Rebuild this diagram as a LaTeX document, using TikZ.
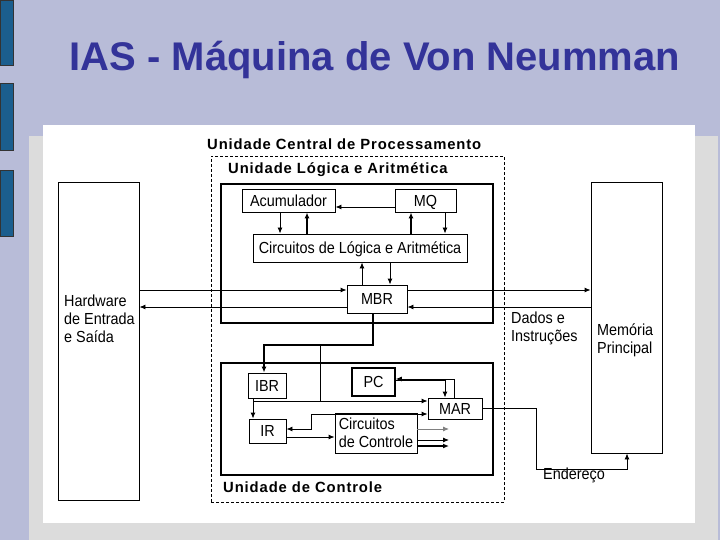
\documentclass[tikz,border=0pt]{standalone}
\usepackage{fontspec}
\setmainfont{Liberation Sans}
\newfontfamily\diagfont[FakeStretch=0.9]{Liberation Sans}
\newfontfamily\unitfont[LetterSpace=6]{Liberation Sans}
\usetikzlibrary{arrows.meta,positioning,calc}
\definecolor{slidebg}{RGB}{184,188,216}
\definecolor{panelgray}{RGB}{220,220,220}
\definecolor{barblue}{RGB}{27,94,142}
\definecolor{titleblue}{RGB}{51,51,153}

\begin{document}
\begin{tikzpicture}[x=1pt, y=-1pt, >={Latex[length=6pt,width=5pt]},
  box/.style={draw, line width=0.9pt, inner sep=0pt,
    font=\diagfont\fontsize{16}{18}\selectfont},
  reg/.style={box, text height=11.7pt, text depth=0pt},
  unit/.style={draw, line width=2pt, inner sep=0pt},
  txt/.style={anchor=west, align=left, inner sep=0pt,
    font=\diagfont\fontsize{16}{18}\selectfont},
  unitlbl/.style={anchor=base west, inner sep=0pt,
    font=\unitfont\bfseries\fontsize{14.8}{17}\selectfont},
  wire/.style={line width=0.9pt},
  bus/.style={line width=1.7pt}]
  \useasboundingbox (0,0) rectangle (720,540);
  \fill[slidebg] (0,0) rectangle (720,540);
  \fill[panelgray] (29,136) rectangle (718,540);
  \fill[white] (43,125) rectangle (695,523);
  \foreach \ya/\yb in {0/65, 83/150, 170/236}
    \filldraw[fill=barblue, draw=black!80, line width=0.8pt] (0,\ya) rectangle (13,\yb);
  \node[anchor=base, text=titleblue, font=\bfseries\fontsize{40}{48}\selectfont]
    (title) at (375,71) {IAS - Máquina de Von Neumman};

  \node[box, minimum width=81, minimum height=318] (hw) at (98.5,341) {};
  \node[txt] (hwtext) at (64,319) {Hardware\\de Entrada\\e Saída};
  \node[box, minimum width=71, minimum height=271] (mem) at (626.5,317.5) {};
  \node[txt] (memtext) at (597,340) {Memória\\Principal};

  \node[draw, dashed, line width=0.8pt, dash pattern=on 3pt off 2pt,
    minimum width=293, minimum height=346] (cpu) at (357.5,329) {};
  \node[unit, minimum width=272, minimum height=139] (alu) at (357,253.5) {};
  \node[unit, minimum width=272, minimum height=112] (cu) at (357,419) {};
  \node[unitlbl] (cpulbl) at (207,150) {Unidade Central de Processamento};
  \node[unitlbl] (alulbl) at (228,174) {Unidade Lógica e Aritmética};
  \node[unitlbl] (culbl) at (223,492) {Unidade de Controle};

  \node[reg, minimum width=93, minimum height=23] (acc) at (288.5,200.5) {Acumulador};
  \node[reg, minimum width=61, minimum height=23] (mq) at (425.5,200.5) {MQ};
  \node[reg, minimum width=214, minimum height=28] (cla) at (360,248) {Circuitos de Lógica e Aritmética};
  \node[reg, minimum width=60, minimum height=28] (mbr) at (377,299) {MBR};
  \node[reg, minimum width=38, minimum height=25] (ibr) at (267,385.5) {IBR};
  \node[reg, line width=1.6pt, minimum width=43, minimum height=28] (pc) at (373.5,382) {PC};
  \node[reg, minimum width=54, minimum height=21] (mar) at (455,408.5) {MAR};
  \node[reg, minimum width=37, minimum height=24] (ir) at (267.5,431) {IR};
  \node[box, minimum width=82, minimum height=40, align=left] (ctl) at (376,433) {Circuitos\\de Controle};

  \draw[wire,->] (mq.west |- 0,207) -- (acc.east |- 0,207);
  \draw[wire,->] (acc.south -| 280,0) -- (cla.north -| 280,0);
  \draw[bus,->] (cla.north -| 307,0) -- (acc.south -| 307,0);
  \draw[bus,->] (cla.north -| 411,0) -- (mq.south -| 411,0);
  \draw[wire,->] (mq.south -| 445,0) -- (cla.north -| 445,0);
  \draw[wire,->] (mbr.north -| 362,0) -- (cla.south -| 362,0);
  \draw[wire,->] (cla.south -| 390,0) -- (mbr.north -| 390,0);

  \draw[wire,->] (hw.east |- 0,290) -- (mbr.west |- 0,290);
  \draw[wire,->] (mbr.west |- 0,307) -- (hw.east |- 0,307);
  \draw[wire,->] (mbr.east |- 0,290) -- (mem.west |- 0,290);
  \draw[wire,->] (mem.west |- 0,307) -- (mbr.east |- 0,307);
  \node[txt] (data) at (511,328) {Dados e\\Instruções};

  \coordinate (busjoint) at (320,345);
  \coordinate (tap) at (253,401);
  \draw[bus,->] (mbr.south -| 373,0) |- (264,345) -- (ibr.north -| 264,0);
  \draw[wire] (busjoint) -- (busjoint |- tap);
  \draw[wire,->] (ibr.south -| tap) -- (ir.north -| tap);
  \draw[wire,->] (tap) -- (mar.west |- tap);
  \draw[wire,<->] (ir.east |- 0,429) -| (311,414) -- (mar.west |- 0,414);
  \draw[wire,->] (ir.east |- 0,437) -- (ctl.west |- 0,437);
  \draw[wire,->] (mar.north -| 454,0) |- (pc.east |- 0,379);
  \draw[wire,->] (pc.east |- 0,380) -| (mar.north -| 445,0);

  \coordinate (out1) at (449,429);
  \coordinate (out2) at (449,440);
  \coordinate (out3) at (449,446);
  \draw[wire,->,gray] (ctl.east |- out1) -- (out1);
  \draw[wire,->] (ctl.east |- out2) -- (out2);
  \draw[bus,->] (ctl.east |- out3) -- (out3);

  \draw[wire,->] (mar.east |- 0,408) -| (536,469) -| (mem.south -| 627,0);
  \node[txt, anchor=base west] (addr) at (543,479) {Endereço};
\end{tikzpicture}
\end{document}
